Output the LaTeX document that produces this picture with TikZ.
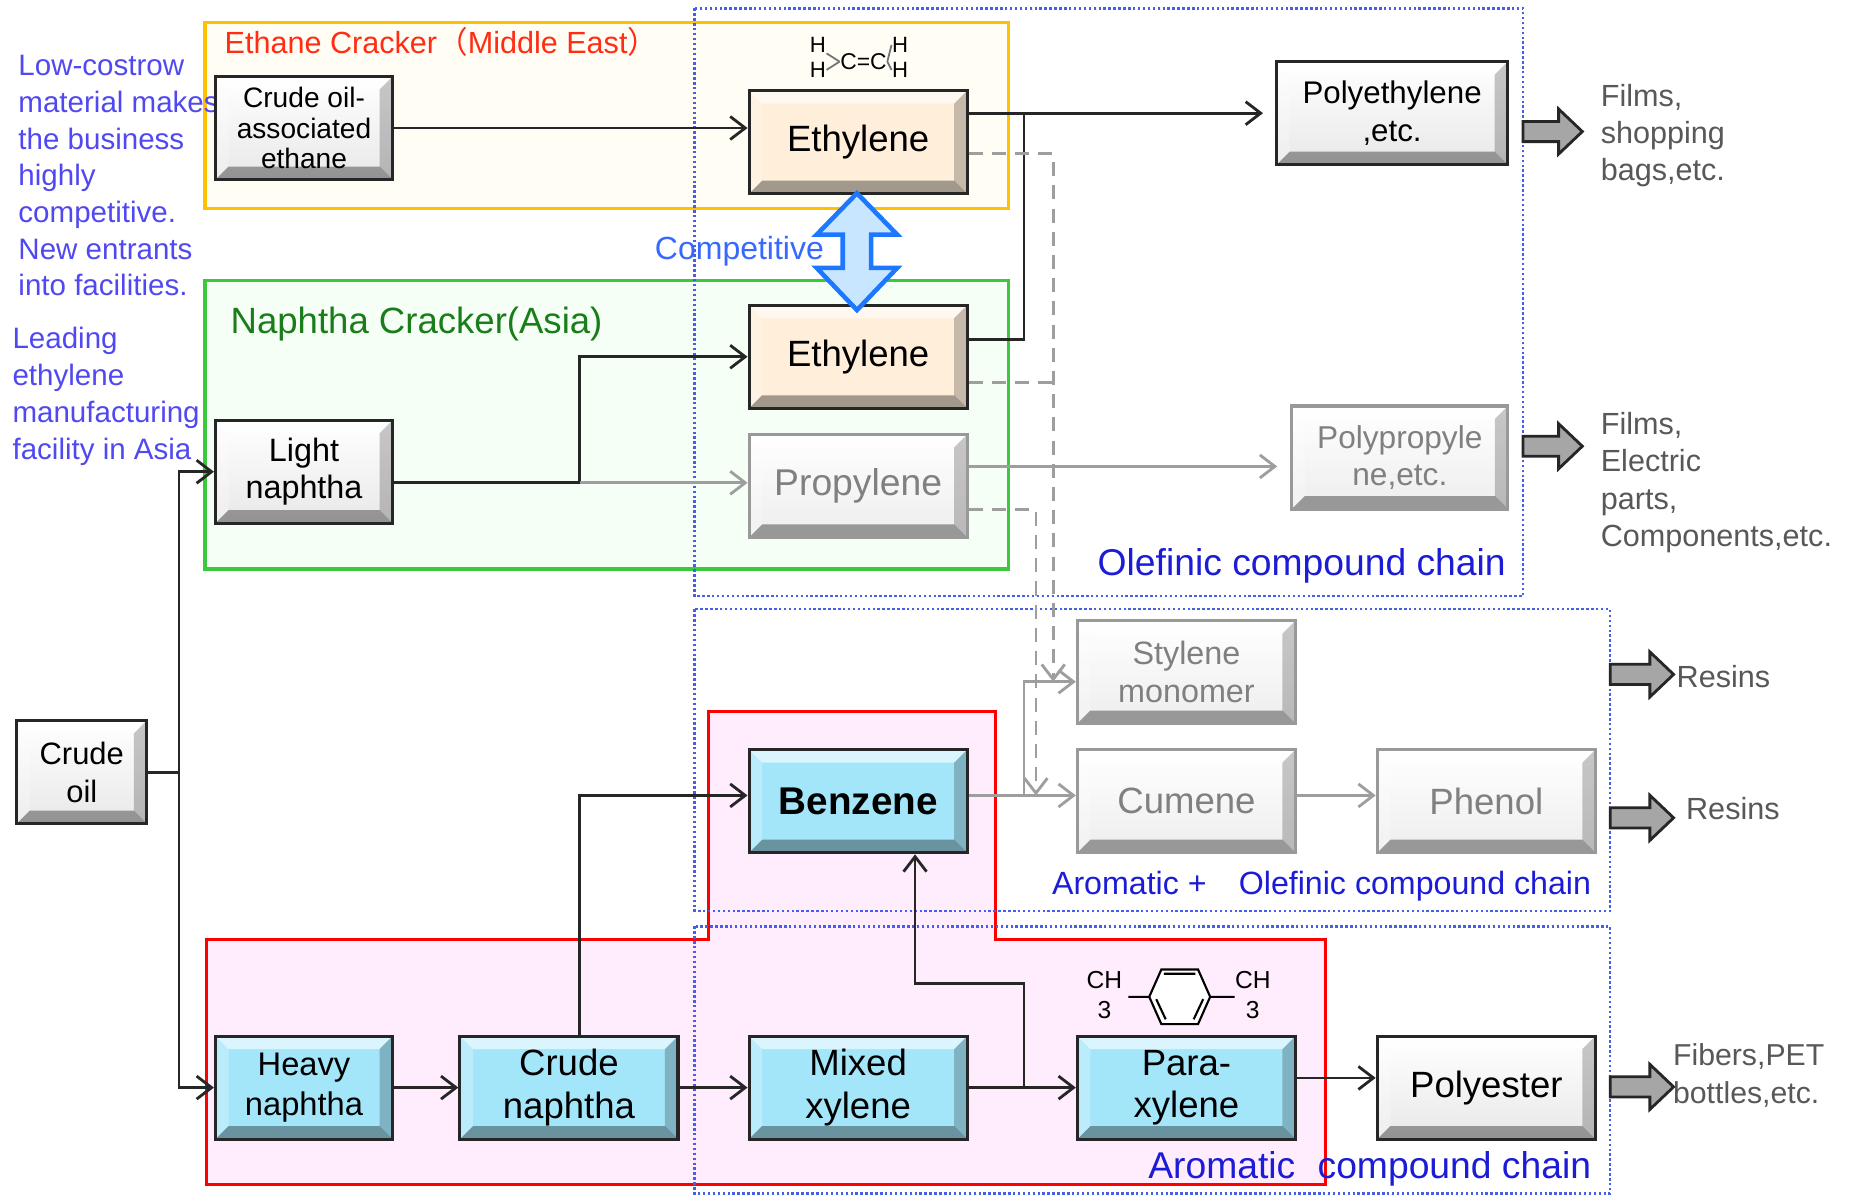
\documentclass[tikz,border=0pt]{standalone}
\usepackage{fontspec}
\setmainfont{Liberation Sans}
\newfontfamily\cjkfont{Noto Sans CJK SC}
\usetikzlibrary{arrows.meta}

\definecolor{notecol}{RGB}{80,72,240}
\definecolor{usecol}{RGB}{88,88,88}
\definecolor{chaincol}{RGB}{28,28,215}
\definecolor{ethanecol}{RGB}{255,45,20}
\definecolor{naphthacol}{RGB}{25,125,25}
\definecolor{compcol}{RGB}{55,105,255}
\definecolor{orangeedge}{RGB}{255,192,0}
\definecolor{orangebg}{RGB}{255,253,244}
\definecolor{greenedge}{RGB}{60,200,60}
\definecolor{greenbg}{RGB}{246,255,246}
\definecolor{pinkbg}{RGB}{255,236,252}
\definecolor{chainedge}{RGB}{70,95,235}
\definecolor{beige}{RGB}{254,238,218}
\definecolor{cyanbox}{RGB}{163,230,250}
\definecolor{arrowblue}{RGB}{30,120,255}
\definecolor{arrowfill}{RGB}{200,230,255}

\begin{document}
\begin{tikzpicture}[x=0.1185mm, y=-0.1185mm,
   bevel/.style={path picture={
     \path (path picture bounding box.north west) coordinate (bvnw)
           (path picture bounding box.south east) coordinate (bvse);
     \fill[white, opacity=.6] (bvnw) -- (bvnw -| bvse) -- ([shift={(-1.3mm,-1.3mm)}]bvnw -| bvse) -- ([shift={(1.3mm,-1.3mm)}]bvnw) -- cycle;
     \fill[white, opacity=.25] (bvnw) -- (bvnw |- bvse) -- ([shift={(1.3mm,1.3mm)}]bvnw |- bvse) -- ([shift={(1.3mm,-1.3mm)}]bvnw) -- cycle;
     \fill[black, opacity=.22] (bvse) -- (bvnw -| bvse) -- ([shift={(-1.3mm,-1.3mm)}]bvnw -| bvse) -- ([shift={(-1.3mm,1.3mm)}]bvse) -- cycle;
     \fill[black, opacity=.36] (bvse) -- (bvnw |- bvse) -- ([shift={(1.3mm,1.3mm)}]bvnw |- bvse) -- ([shift={(-1.3mm,1.3mm)}]bvse) -- cycle;
   }},
   prodbox/.style={draw=black!85, line width=0.9pt, minimum width=21.8mm, minimum height=10.3mm,
     align=center, inner sep=1pt, bevel, font=\fontsize{10.4}{12.1}\selectfont},
   grayprod/.style={prodbox, top color=white, bottom color=black!9},
   beigeprod/.style={prodbox, fill=beige},
   blueprod/.style={prodbox, fill=cyanbox},
   fadeprod/.style={prodbox, draw=black!40, top color=white, bottom color=black!7, text=black!50},
   flow/.style={draw=black!85, line width=0.8pt},
   flowarr/.style={flow, -{Straight Barb[length=1.5mm,width=2.3mm]}},
   faint/.style={draw=black!38, line width=0.8pt},
   faintarr/.style={faint, -{Straight Barb[length=1.5mm,width=2.3mm]}},
   faintdash/.style={faintarr, dash pattern=on 4pt off 2.6pt},
   chainbox/.style={draw=chainedge, line width=0.7pt, dash pattern=on 0.7pt off 0.7pt},
   note/.style={text=notecol, align=left, inner sep=0pt, font=\fontsize{8.4}{10.45}\selectfont},
   usetext/.style={text=usecol, align=left, inner sep=0pt, font=\fontsize{8.7}{10.5}\selectfont},
   chain/.style={text=chaincol, inner sep=0pt},
   outarrow/.style={draw=black!85, fill=black!35, line width=0.8pt},
   atom/.style={inner sep=0pt, font=\fontsize{6.3}{7}\selectfont}]

\useasboundingbox (0,0) rectangle (1560,1009);
\fill[white] (0,0) rectangle (1560,1009);

% regions
\draw[orangeedge, fill=orangebg, line width=0.9pt] (173,18.7) rectangle (851,176);
\draw[greenedge, fill=greenbg, line width=0.9pt] (173,237) rectangle (851,480);
\draw[red, fill=pinkbg, line width=0.9pt] (174,793) -- (598,793) -- (598,600) -- (840,600)
   -- (840,793) -- (1118,793) -- (1118,999) -- (174,999) -- cycle;
\draw[chainbox] (586,7) rectangle (1285,503);
\draw[chainbox] (586,514) rectangle (1358.5,768.5);
\draw[chainbox] (586,781.5) rectangle (1358.5,1007);

% region labels
\node[text=ethanecol, inner sep=0pt, anchor=west, font=\fontsize{8.7}{10}\selectfont] (ethanelbl) at (189,35)
   {Ethane Cracker{\cjkfont （}Middle East{\cjkfont ）}};
\node[text=naphthacol, inner sep=0pt, anchor=west, font=\fontsize{10.4}{12}\selectfont] (naphthalbl) at (194,273)
   {Naphtha Cracker(Asia)};
\node[chain, anchor=east, font=\fontsize{10.6}{12}\selectfont] (olechain) at (1271,477.5) {Olefinic compound chain};
\node[chain, anchor=east, font=\fontsize{9.15}{11}\selectfont] (mixchain) at (1343,747.5) {Aromatic +\quad Olefinic compound chain};
\node[chain, anchor=east, font=\fontsize{10.6}{12}\selectfont] (arochain) at (1343,986) {Aromatic\hspace{0.6em}compound chain};

% side notes
\node[note, anchor=north west] (lowcost) at (15,46)
   {Low-costrow\\material makes\\the business\\highly\\competitive.\\New entrants\\into facilities.};
\node[note, anchor=north west, font=\fontsize{8.4}{10.56}\selectfont] (leading) at (10,275)
   {Leading\\ethylene\\manufacturing\\facility in Asia};

% products
\node[grayprod, minimum width=17.7mm, font=\fontsize{8}{8.8}\selectfont] (ethane) at (256.5,108) {Crude oil-\\associated\\ethane};
\node[beigeprod] (ethME) at (724,120) {Ethylene};
\node[grayprod, minimum width=23.1mm, font=\fontsize{8.9}{10.8}\selectfont] (polyeth) at (1174.5,95.5) {Polyethylene\\,etc.};
\node[beigeprod] (ethAS) at (724,301) {Ethylene};
\node[grayprod, minimum width=17.7mm, font=\fontsize{9.2}{10.5}\selectfont] (lightnap) at (256.5,398) {Light\\naphtha};
\node[fadeprod, font=\fontsize{10.6}{12}\selectfont] (propyl) at (724,410) {Propylene};
\node[fadeprod, minimum width=21.6mm, font=\fontsize{9}{10.5}\selectfont] (polyprop) at (1181,386) {Polypropyle\\ne,etc.};
\node[fadeprod, font=\fontsize{9.2}{10.8}\selectfont] (stylene) at (1001,567) {Stylene\\monomer};
\node[fadeprod] (cumene) at (1001,676) {Cumene};
\node[fadeprod] (phenol) at (1254,676) {Phenol};
\node[blueprod, font=\fontsize{11}{13}\bfseries] (benzene) at (724,676) {Benzene};
\node[grayprod, minimum width=13mm, font=\fontsize{8.8}{10.8}\selectfont] (crudeoil) at (69,651.5) {Crude\\oil};
\node[blueprod, minimum width=17.7mm, font=\fontsize{9.3}{11.5}\selectfont] (heavynap) at (256.5,917.6) {Heavy\\naphtha};
\node[blueprod] (crudenap) at (480,917.6) {Crude\\naphtha};
\node[blueprod] (mixxyl) at (724,917.6) {Mixed\\xylene};
\node[blueprod] (paraxyl) at (1001,917.6) {Para-\\xylene};
\node[grayprod] (polyester) at (1254,917.6) {Polyester};

% uses
\node[usetext, anchor=north west] (usepe) at (1350,70.7) {Films,\\shopping\\bags,etc.};
\node[usetext, anchor=north west, font=\fontsize{8.7}{10.53}\selectfont] (usepp) at (1350,347.7) {Films,\\Electric\\parts,\\Components,etc.};
\node[usetext, anchor=west] (usesm) at (1414,571) {Resins};
\node[usetext, anchor=west] (useph) at (1422,682) {Resins};
\node[usetext, anchor=north west, font=\fontsize{8.6}{10.8}\selectfont] (usepx) at (1411,879.7) {Fibers,PET\\bottles,etc.};
\foreach \ax/\ay/\al in {1285/111/50, 1285/376.5/50, 1358.5/569/53.5, 1358.5/690/53.5, 1358.5/917/53.5}
  \draw[outarrow] (\ax,\ay-8.5) -- (\ax+\al-20,\ay-8.5) -- (\ax+\al-20,\ay-19) -- (\ax+\al,\ay)
     -- (\ax+\al-20,\ay+19) -- (\ax+\al-20,\ay+8.5) -- (\ax,\ay+8.5) -- cycle;

% competition
\node[text=compcol, inner sep=0pt, anchor=west, font=\fontsize{9.1}{11}\selectfont] (complbl) at (552,212) {Competitive};
\draw[draw=arrowblue, fill=arrowfill, line width=1.3pt, line join=miter] (723,163) -- (757,198) -- (735,198) -- (735,226) -- (757,226)
   -- (723,261.6) -- (689,226) -- (711,226) -- (711,198) -- (689,198) -- cycle;

% formulas
\node[atom] (hA) at (690,38) {H};
\node[atom] (hB) at (690,59) {H};
\node[atom, font=\fontsize{6.5}{7}\selectfont] (cc) at (728.5,52) {C=C};
\node[atom] (hC) at (759.5,38) {H};
\node[atom] (hD) at (759.5,59) {H};
\draw[black!55, line width=0.5pt] (hA.south east) -- (cc.west) (hB.east) -- (cc.west) (cc.east) -- (hC.west) (cc.east) -- (hD.west);
\node[atom, font=\fontsize{7}{8}\selectfont] (chL) at (931.8,827) {CH};
\node[atom, font=\fontsize{7}{8}\selectfont] (threeL) at (931.8,852) {3};
\node[atom, font=\fontsize{7}{8}\selectfont] (chR) at (1057,827) {CH};
\node[atom, font=\fontsize{7}{8}\selectfont] (threeR) at (1057,852) {3};
\draw[fill=white, line width=0.6pt] (969.6,841) -- (979.8,818) -- (1010.8,818) -- (1021,841) -- (1010.8,864) -- (979.8,864) -- cycle;
\draw[line width=0.6pt] (952,841) -- (969.6,841) (1021,841) -- (1041.6,841)
   (982,821.5) -- (1008.6,821.5) (975.5,843) -- (983.5,860) (1015.1,843) -- (1007.1,860);

% connectors
\coordinate (feedx) at (151,0);
\coordinate (lnx) at (489,0);
\coordinate (pex) at (864,0);
\coordinate (dashA) at (888.6,0);
\coordinate (dashB) at (874,0);

\draw[flowarr] (ethane.east) -- (ethane.east -| ethME.west);
\draw[flowarr, shorten >=1.2mm] (ethME.east |- polyeth.west) -- (polyeth.west);
\draw[flow] (ethAS.9) -| (pex |- polyeth.west);
\draw[flowarr] (lightnap.-7) -| (lnx |- ethAS.west) -- (ethAS.west);
\draw[faintarr] (lnx |- lightnap.-7) -- (lightnap.-7 -| propyl.west);
\draw[faintarr, shorten >=1.3mm] (propyl.10) -- (propyl.10 -| polyprop.west);
\draw[faintdash] (ethME.-6) -| (dashA |- stylene.185);
\draw[faint, dash pattern=on 4pt off 2.6pt] (ethAS.-13) -- (ethAS.-13 -| dashA);
\draw[faintdash] (propyl.-12) -| (dashB |- benzene.3);
\draw[faintarr] (benzene.3) -- (benzene.3 -| cumene.west);
\draw[faintarr] (pex |- benzene.3) |- (stylene.185);
\draw[faintarr] (cumene.3) -- (cumene.3 -| phenol.west);
\draw[flowarr] (crudeoil.east) -| (feedx |- lightnap.west) -- (lightnap.west);
\draw[flowarr] (feedx |- crudeoil.east) |- (heavynap.west);
\draw[flowarr] (heavynap) -- (crudenap);
\draw[flowarr] (crudenap) -- (mixxyl);
\draw[flowarr] (mixxyl) -- (paraxyl);
\draw[flowarr] (lnx |- crudenap.north) |- (benzene.177);
\draw[flowarr] (pex |- mixxyl.east) -- ++(0,-88) -| (benzene.-43);
\draw[flowarr] (paraxyl.5) -- (paraxyl.5 -| polyester.west);
\end{tikzpicture}
\end{document}
